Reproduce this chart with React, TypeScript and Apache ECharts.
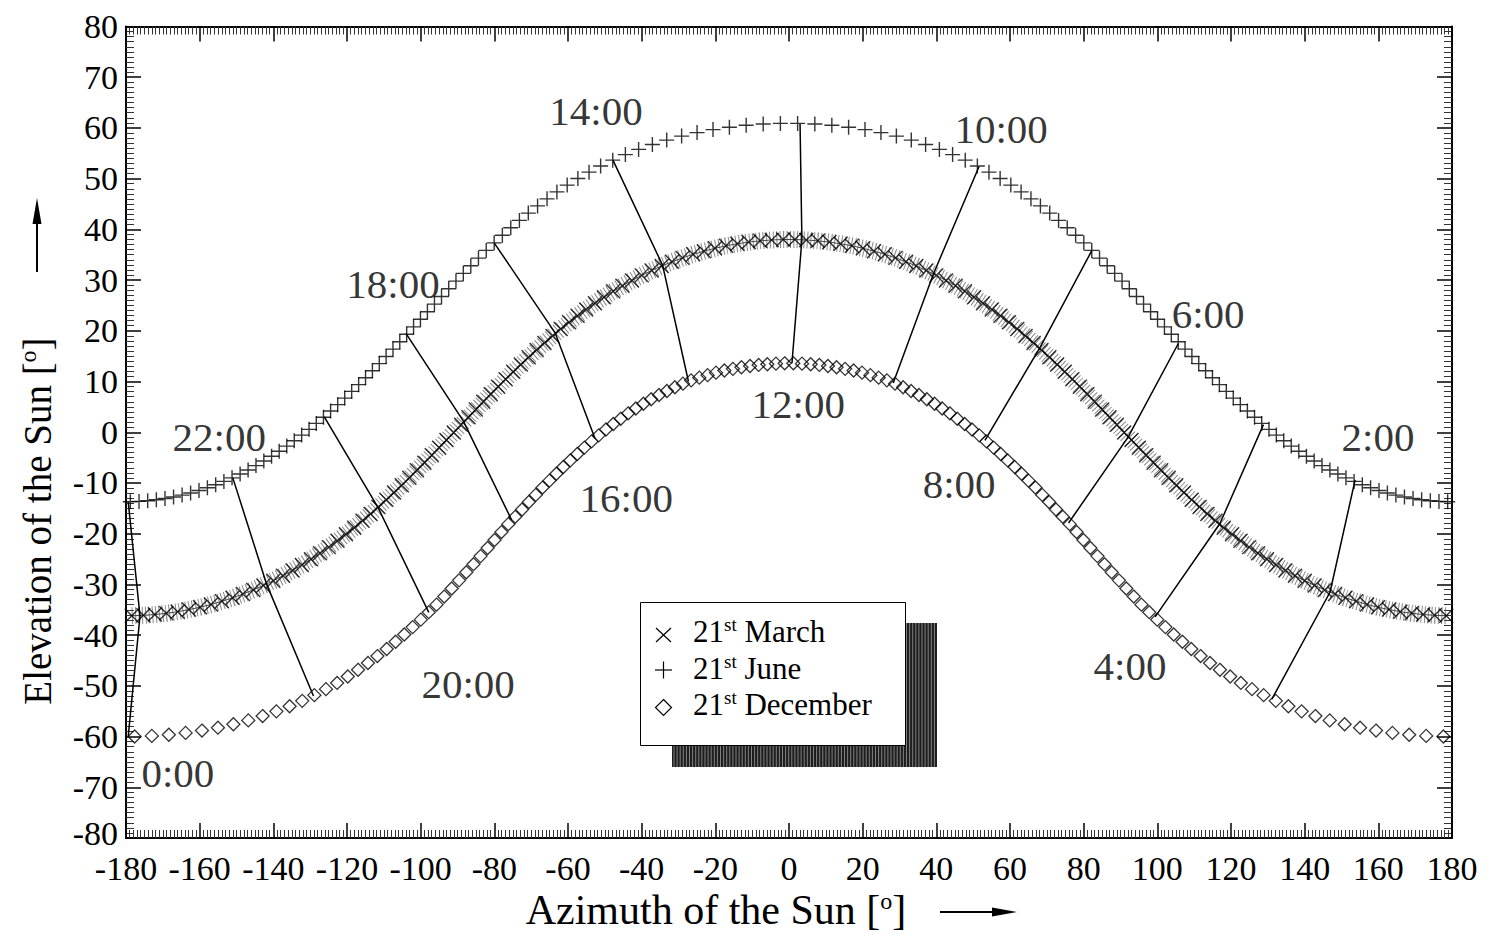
import React, { useEffect, useRef } from "react";
import * as echarts from "echarts";

const FONT = "'Liberation Serif', 'Times New Roman', serif";

// Axis ranges / ticks
const xRange = { min: -180, max: 180, step: 20 };
const yRange = { min: -80, max: 80, step: 10 };

// 21st March: [azimuth, elevation]
const marchPts: number[][] = [
  [-178.43,-36.18],[-175.30,-36.10],[-172.17,-35.94],[-169.06,-35.70],[-165.98,-35.38],[-162.92,-34.97],[-159.90,-34.50],[-156.92,-33.95],[-153.98,-33.33],[-151.08,-32.65],[-148.24,-31.89],[-145.44,-31.08],[-142.70,-30.20],[-140.01,-29.27],[-137.37,-28.28],[-134.78,-27.24],[-132.25,-26.16],[-129.76,-25.03],[-127.33,-23.86],[-124.94,-22.65],[-122.59,-21.40],[-120.29,-20.12],[-118.02,-18.81],[-115.79,-17.47],[-113.60,-16.11],[-111.48,-14.72],[-109.32,-13.32],[-107.21,-11.89],[-105.13,-10.44],[-103.07,-8.98],[-101.03,-7.51],[-99.00,-6.03],[-96.99,-4.54],[-94.99,-3.04],[-92.99,-1.54],[-91.00,-0.03],[-89.00,1.48],[-87.01,2.98],[-85.01,4.49],[-83.01,5.99],[-81.00,7.49],[-78.97,8.97],[-76.93,10.45],[-74.87,11.92],[-72.79,13.37],[-70.68,14.80],[-68.52,16.22],[-66.40,17.62],[-64.21,18.99],[-61.98,20.35],[-59.71,21.67],[-57.41,22.96],[-55.06,24.22],[-52.67,25.45],[-50.24,26.63],[-47.75,27.78],[-45.22,28.88],[-42.63,29.93],[-39.99,30.93],[-37.30,31.88],[-34.56,32.78],[-31.76,33.61],[-28.92,34.38],[-26.02,35.08],[-23.08,35.71],[-20.10,36.27],[-17.08,36.76],[-14.02,37.16],[-10.94,37.49],[-7.83,37.74],[-4.70,37.91],[-1.57,38.00],
  [1.57,38.00],[4.70,37.91],[7.83,37.74],[10.94,37.49],[14.02,37.16],[17.08,36.76],[20.10,36.27],[23.08,35.71],[26.02,35.08],[28.92,34.38],[31.76,33.61],[34.56,32.78],[37.30,31.88],[39.99,30.93],[42.63,29.93],[45.22,28.88],[47.75,27.78],[50.24,26.63],[52.67,25.45],[55.06,24.22],[57.41,22.96],[59.71,21.67],[61.98,20.35],[64.21,18.99],[66.40,17.62],[68.52,16.22],[70.68,14.80],[72.79,13.37],[74.87,11.92],[76.93,10.45],[78.97,8.97],[81.00,7.49],[83.01,5.99],[85.01,4.49],[87.01,2.98],[89.00,1.48],[91.00,-0.03],[92.99,-1.54],[94.99,-3.04],[96.99,-4.54],[99.00,-6.03],[101.03,-7.51],[103.07,-8.98],[105.13,-10.44],[107.21,-11.89],[109.32,-13.32],[111.48,-14.72],[113.60,-16.11],[115.79,-17.47],[118.02,-18.81],[120.29,-20.12],[122.59,-21.40],[124.94,-22.65],[127.33,-23.86],[129.76,-25.03],[132.25,-26.16],[134.78,-27.24],[137.37,-28.28],[140.01,-29.27],[142.70,-30.20],[145.44,-31.08],[148.24,-31.89],[151.08,-32.65],[153.98,-33.33],[156.92,-33.95],[159.90,-34.50],[162.92,-34.97],[165.98,-35.38],[169.06,-35.70],[172.17,-35.94],[175.30,-36.10],[178.43,-36.18]
];

// 21st June
const junePts: number[][] = [
  [-178.82,-13.69],[-176.46,-13.63],[-174.11,-13.50],[-171.76,-13.32],[-169.42,-13.07],[-167.09,-12.76],[-164.77,-12.39],[-162.46,-11.97],[-160.18,-11.48],[-157.90,-10.94],[-155.65,-10.34],[-153.42,-9.69],[-151.21,-8.99],[-149.02,-8.23],[-146.85,-7.43],[-144.71,-6.58],[-142.58,-5.68],[-140.48,-4.74],[-138.41,-3.76],[-136.35,-2.73],[-134.32,-1.67],[-132.31,-0.56],[-130.31,0.57],[-128.34,1.74],[-126.39,2.95],[-124.45,4.18],[-122.53,5.44],[-120.62,6.73],[-118.73,8.05],[-116.84,9.39],[-114.97,10.75],[-113.10,12.13],[-111.24,13.54],[-109.38,14.95],[-107.52,16.39],[-105.67,17.84],[-103.80,19.31],[-101.93,20.78],[-100.06,22.27],[-98.17,23.76],[-96.26,25.27],[-94.34,26.78],[-92.39,28.29],[-90.42,29.80],[-88.42,31.32],[-86.39,32.83],[-84.31,34.34],[-82.20,35.85],[-80.04,37.34],[-77.82,38.83],[-75.54,40.31],[-73.19,41.77],[-70.78,43.21],[-68.26,44.63],[-65.69,46.02],[-63.01,47.39],[-60.22,48.73],[-57.32,50.03],[-54.29,51.28],[-51.14,52.49],[-47.85,53.65],[-44.42,54.74],[-40.83,55.77],[-37.09,56.73],[-33.20,57.60],[-29.15,58.39],[-24.96,59.08],[-20.63,59.67],[-16.18,60.15],[-11.63,60.52],[-7.01,60.77],[-2.34,60.89],
  [2.34,60.89],[7.01,60.77],[11.63,60.52],[16.18,60.15],[20.63,59.67],[24.96,59.08],[29.15,58.39],[33.20,57.60],[37.09,56.73],[40.83,55.77],[44.42,54.74],[47.85,53.65],[51.14,52.49],[54.29,51.28],[57.32,50.03],[60.22,48.73],[63.01,47.39],[65.69,46.02],[68.26,44.63],[70.78,43.21],[73.19,41.77],[75.54,40.31],[77.82,38.83],[80.04,37.34],[82.20,35.85],[84.31,34.34],[86.39,32.83],[88.42,31.32],[90.42,29.80],[92.39,28.29],[94.34,26.78],[96.26,25.27],[98.17,23.76],[100.06,22.27],[101.93,20.78],[103.80,19.31],[105.67,17.84],[107.52,16.39],[109.38,14.95],[111.24,13.54],[113.10,12.13],[114.97,10.75],[116.84,9.39],[118.73,8.05],[120.62,6.73],[122.53,5.44],[124.45,4.18],[126.39,2.95],[128.34,1.74],[130.31,0.57],[132.31,-0.56],[134.32,-1.67],[136.35,-2.73],[138.41,-3.76],[140.48,-4.74],[142.58,-5.68],[144.71,-6.58],[146.85,-7.43],[149.02,-8.23],[151.21,-8.99],[153.42,-9.69],[155.65,-10.34],[157.90,-10.94],[160.18,-11.48],[162.46,-11.97],[164.77,-12.39],[167.09,-12.76],[169.42,-13.07],[171.76,-13.32],[174.11,-13.50],[176.46,-13.63],[178.82,-13.69]
];

// 21st December
const decPts: number[][] = [
  [-177.66,-59.99],[-172.99,-59.87],[-168.37,-59.64],[-163.82,-59.28],[-159.37,-58.82],[-155.04,-58.25],[-150.85,-57.58],[-146.80,-56.81],[-142.91,-55.96],[-139.17,-55.03],[-135.58,-54.03],[-132.15,-52.96],[-128.86,-51.83],[-125.71,-50.65],[-122.68,-49.43],[-119.78,-48.15],[-116.99,-46.84],[-114.31,-45.50],[-111.74,-44.13],[-109.22,-42.73],[-106.81,-41.31],[-104.46,-39.87],[-102.18,-38.42],[-99.96,-36.95],[-97.80,-35.48],[-95.69,-33.99],[-93.61,-32.40],[-91.58,-30.80],[-89.58,-29.20],[-87.61,-27.61],[-85.66,-26.01],[-83.74,-24.42],[-81.83,-22.83],[-79.94,-21.25],[-78.07,-19.68],[-76.20,-18.12],[-74.33,-16.67],[-72.48,-15.23],[-70.62,-13.76],[-68.76,-12.35],[-66.90,-10.91],[-65.03,-9.54],[-63.16,-8.19],[-61.27,-6.86],[-59.38,-5.56],[-57.47,-4.28],[-55.55,-3.03],[-53.61,-1.80],[-51.66,-0.61],[-49.69,0.55],[-47.69,1.63],[-45.68,2.67],[-43.65,3.73],[-41.59,4.69],[-39.52,5.62],[-37.42,6.50],[-35.29,7.34],[-33.15,8.14],[-30.98,8.88],[-28.79,9.58],[-26.58,10.23],[-24.35,10.77],[-22.10,11.26],[-19.82,11.75],[-17.54,12.18],[-15.23,12.50],[-12.91,12.82],[-10.58,13.07],[-8.24,13.27],[-5.89,13.41],[-3.54,13.53],[-1.18,13.59],
  [1.18,13.59],[3.54,13.53],[5.89,13.41],[8.24,13.27],[10.58,13.07],[12.91,12.82],[15.23,12.50],[17.54,12.18],[19.82,11.75],[22.10,11.26],[24.35,10.77],[26.58,10.23],[28.79,9.58],[30.98,8.88],[33.15,8.14],[35.29,7.34],[37.42,6.50],[39.52,5.62],[41.59,4.69],[43.65,3.73],[45.68,2.67],[47.69,1.63],[49.69,0.55],[51.66,-0.61],[53.61,-1.80],[55.55,-3.03],[57.47,-4.28],[59.38,-5.56],[61.27,-6.86],[63.16,-8.19],[65.03,-9.54],[66.90,-10.91],[68.76,-12.35],[70.62,-13.76],[72.48,-15.23],[74.33,-16.67],[76.20,-18.12],[78.07,-19.68],[79.94,-21.25],[81.83,-22.83],[83.74,-24.42],[85.66,-26.01],[87.61,-27.61],[89.58,-29.20],[91.58,-30.80],[93.61,-32.40],[95.69,-33.99],[97.80,-35.48],[99.96,-36.95],[102.18,-38.42],[104.46,-39.87],[106.81,-41.31],[109.22,-42.73],[111.74,-44.13],[114.31,-45.50],[116.99,-46.84],[119.78,-48.15],[122.68,-49.43],[125.71,-50.65],[128.86,-51.83],[132.15,-52.96],[135.58,-54.03],[139.17,-55.03],[142.91,-55.96],[146.80,-56.81],[150.85,-57.58],[155.04,-58.25],[159.37,-58.82],[163.82,-59.28],[168.37,-59.64],[172.99,-59.87],[177.66,-59.99]
];

// Hour lines: June point -> March point -> December point
const hourLine0: number[][] = [[-179.4,-13.7],[-176.2,-36.2],[-179.4,-60.0]];
const hourLine2: number[][] = [[153.7,-9.4],[146.9,-31.5],[131.1,-52.6]];
const hourLine4: number[][] = [[128.8,1.5],[117.0,-18.0],[99.4,-36.4]];
const hourLine6: number[][] = [[105.7,17.5],[92.1,-0.9],[75.9,-17.9]];
const hourLine8: number[][] = [[82.2,35.8],[68.2,16.8],[53.2,-1.6]];
const hourLine10: number[][] = [[51.6,52.4],[39.2,31.2],[28.3,9.7]];
const hourLine12: number[][] = [[3.0,60.8],[3.5,37.95],[0.8,13.6]];
const hourLine14: number[][] = [[-47.8,53.65],[-34.3,32.9],[-27.3,10.0]];
const hourLine16: number[][] = [[-80.0,37.3],[-63.5,19.6],[-52.7,-1.2]];
const hourLine18: number[][] = [[-104.0,19.5],[-88.4,2.2],[-75.3,-17.3]];
const hourLine20: number[][] = [[-126.2,3.1],[-111.6,-14.8],[-97.8,-35.5]];
const hourLine22: number[][] = [[-151.0,-9.0],[-141.8,-30.0],[-129.1,-52.0]];
const hourLines = [hourLine0, hourLine2, hourLine4, hourLine6, hourLine8, hourLine10,
  hourLine12, hourLine14, hourLine16, hourLine18, hourLine20, hourLine22];

// Hour labels: [azimuth, elevation, text]
const hourLabels: [number, number, string][] = [
  [-52.4, 63.3, "14:00"], [57.6, 59.8, "10:00"], [-107.5, 29.2, "18:00"], [113.8, 23.3, "6:00"],
  [-154.7, -0.9, "22:00"], [159.9, -0.9, "2:00"], [2.5, 5.6, "12:00"], [46.2, -10.2, "8:00"],
  [-44.2, -13.0, "16:00"], [-87.1, -49.6, "20:00"], [92.6, -46.1, "4:00"], [-165.9, -67.2, "0:00"]
];

const seriesNames = ["21st March", "21st June", "21st December"];
const legendParts: [string, string, string][] = [["21", "st", " March"], ["21", "st", " June"], ["21", "st", " December"]];

const XSYM = "path://M0,0L10,10M10,0L0,10";
const PLUS = "path://M5,0L5,10M0,5L10,5";

function axisCommon(showLabel: boolean, isX: boolean) {
  return {
    axisLine: { show: true, onZero: false, lineStyle: { color: "#000", width: 2 } },
    axisTick: { show: true, inside: true, length: 15, lineStyle: { color: "#000", width: 1.5 } },
    minorTick: { show: true, splitNumber: isX ? 20 : 10, length: 8, lineStyle: { color: "#333", width: 1 } },
    splitLine: { show: false },
    minorSplitLine: { show: false },
    axisLabel: {
      show: showLabel, fontSize: 34, fontFamily: FONT, color: "#000",
      lineHeight: 24, margin: isX ? 18 : 8,
      formatter: isX ? "{value}" : (v: number) => (v === yRange.min ? `{lo|${v}}` : `${v}`),
      rich: { lo: { fontSize: 34, fontFamily: FONT, color: "#000", lineHeight: 24, padding: [0, 0, 10, 0] } },
    },
  };
}

export default function App() {
  const ref = useRef<HTMLDivElement>(null);
  useEffect(() => {
    if (!ref.current) return;
    const chart = echarts.init(ref.current, undefined, { renderer: "svg" });

    const xBase = { type: "value", min: xRange.min, max: xRange.max, interval: xRange.step };
    const yBase = { type: "value", min: yRange.min, max: yRange.max, interval: yRange.step };

    const series: any[] = [];
    // hatched band around the March curve
    series.push({
      type: "line", data: marchPts, symbol: "none", silent: true, z: 1,
      lineStyle: { color: "#555", width: 17, type: [1, 2.4], opacity: 0.7 },
    });
    series.push({
      type: "line", data: marchPts, symbol: "none", silent: true, z: 2,
      lineStyle: { color: "#444", width: 1 },
    });
    hourLines.forEach((pts) => {
      series.push({
        type: "line", data: pts, symbol: "none", silent: true, z: 3,
        lineStyle: { color: "#000", width: 1.5 },
      });
    });
    series.push({
      name: seriesNames[0], type: "scatter", data: marchPts, symbol: XSYM, symbolSize: 14, z: 4,
      itemStyle: { color: "transparent", borderColor: "#000", borderWidth: 1.4 },
    });
    series.push({
      name: seriesNames[1], type: "scatter", data: junePts, symbol: PLUS, symbolSize: 15, z: 4,
      itemStyle: { color: "transparent", borderColor: "#000", borderWidth: 1.4 },
    });
    series.push({
      name: seriesNames[2], type: "scatter", data: decPts, symbol: "diamond", symbolSize: 13, z: 4,
      itemStyle: { color: "transparent", borderColor: "#000", borderWidth: 1.3 },
    });
    series.push({
      type: "scatter", z: 6, symbolSize: 1, silent: true,
      data: hourLabels.map(([x, y, t]) => ({ value: [x, y], name: t })),
      itemStyle: { color: "transparent" },
      label: { show: true, position: "inside", formatter: "{b}", fontSize: 41, fontFamily: FONT, color: "#000" },
    });

    const legendTop = [631, 668, 704.5];
    const graphic: any[] = [
      // legend shadow (striped) + box
      { type: "rect", shape: { x: 672, y: 623, width: 265, height: 144 }, style: { fill: "#1e1e1e" }, z: 100 },
    ];
    for (let sx = 674; sx < 936; sx += 3.1) {
      graphic.push({
        type: "line", shape: { x1: sx, y1: 623, x2: sx, y2: 767 },
        style: { stroke: "#9a9a9a", lineWidth: 0.8 }, z: 100, silent: true,
      });
    }
    graphic.push(
      { type: "rect", shape: { x: 640.5, y: 602.5, width: 265, height: 143 }, style: { fill: "#fff", stroke: "#000", lineWidth: 1 }, z: 101 },
      { type: "line", shape: { x1: 656, y1: 628, x2: 671, y2: 642 }, style: { stroke: "#000", lineWidth: 1.2 }, z: 102 },
      { type: "line", shape: { x1: 656, y1: 642, x2: 671, y2: 628 }, style: { stroke: "#000", lineWidth: 1.2 }, z: 102 },
      { type: "line", shape: { x1: 655, y1: 670, x2: 672, y2: 670 }, style: { stroke: "#000", lineWidth: 1.2 }, z: 102 },
      { type: "line", shape: { x1: 663.5, y1: 661.5, x2: 663.5, y2: 678.5 }, style: { stroke: "#000", lineWidth: 1.2 }, z: 102 },
      { type: "polygon", shape: { points: [[663.5, 699.5], [671.5, 707.5], [663.5, 715.5], [655.5, 707.5]] }, style: { fill: "none", stroke: "#000", lineWidth: 1.2 }, z: 102 },
      // axis titles
      {
        type: "text", x: 716, y: 910, z: 102,
        style: {
          text: "{a|Azimuth of the Sun [}{b|o}{a|]}",
          align: "center", verticalAlign: "middle",
          rich: {
            a: { fontSize: 42, fontFamily: FONT, fill: "#000" },
            b: { fontSize: 24, fontFamily: FONT, fill: "#000", padding: [0, 0, 18, 0] },
          },
        },
      },
      {
        type: "text", x: 37, y: 521, rotation: Math.PI / 2, z: 102,
        style: {
          text: "{a|Elevation of the Sun [}{b|o}{a|]}",
          align: "center", verticalAlign: "middle",
          rich: {
            a: { fontSize: 39, fontFamily: FONT, fill: "#000" },
            b: { fontSize: 24, fontFamily: FONT, fill: "#000", padding: [0, 0, 18, 0] },
          },
        },
      },
      // arrows
      { type: "line", shape: { x1: 940, y1: 912, x2: 998, y2: 912 }, style: { stroke: "#000", lineWidth: 2 }, z: 102 },
      { type: "polygon", shape: { points: [[1017, 912], [992, 907.5], [992, 916.5]] }, style: { fill: "#000" }, z: 102 },
      { type: "line", shape: { x1: 37, y1: 272, x2: 37, y2: 218 }, style: { stroke: "#000", lineWidth: 2 }, z: 102 },
      { type: "polygon", shape: { points: [[37, 198], [32.5, 224], [41.5, 224]] }, style: { fill: "#000" }, z: 102 },
    );
    legendParts.forEach((p, i) => {
      graphic.push({
        type: "text", x: 693, y: legendTop[i], z: 102,
        style: {
          text: `{n|${p[0]}}{s|${p[1]}}{n|${p[2]}}`,
          align: "left", verticalAlign: "middle",
          rich: {
            n: { fontSize: 31, fontFamily: FONT, fill: "#000" },
            s: { fontSize: 19, fontFamily: FONT, fill: "#000", padding: [0, 0, 14, 0] },
          },
        },
      });
    });

    chart.setOption({
      animation: false,
      backgroundColor: "#fff",
      grid: { left: 126, right: 37, top: 26.5, bottom: 96, containLabel: false },
      xAxis: [
        { ...xBase, position: "bottom", ...axisCommon(true, true) },
        { ...xBase, position: "top", ...axisCommon(false, true) },
      ],
      yAxis: [
        { ...yBase, position: "left", ...axisCommon(true, false) },
        { ...yBase, position: "right", ...axisCommon(false, false) },
      ],
      series,
      graphic,
    });
    return () => chart.dispose();
  }, []);
  return <div ref={ref} style={{ position: "fixed", left: 0, top: 0, width: 1489, height: 934 }} />;
}
